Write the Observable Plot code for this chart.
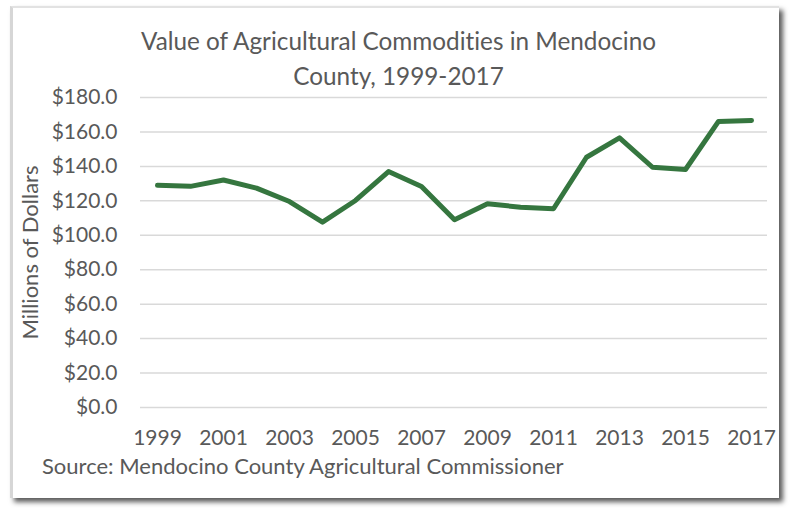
<!DOCTYPE html>
<html><head><meta charset="utf-8">
<script src="https://cdn.jsdelivr.net/npm/d3@7"></script>
<script src="https://cdn.jsdelivr.net/npm/@observablehq/plot@0.6"></script>
<style>
body{margin:0;background:#fff;font-family:Lato,"Open Sans",sans-serif;font-variant-ligatures:none;font-feature-settings:"liga" 0,"clig" 0;}
svg text{font-variant-ligatures:none;font-feature-settings:"liga" 0,"clig" 0;}
#wrap{position:relative;width:791px;height:508px;overflow:hidden;background:#fff;}
#card{position:absolute;left:10px;top:6px;width:766px;height:490px;background:#fff;border-top:2px solid #e2e2e2;border-left:3px solid #d6d6d6;box-shadow:4px 4px 5px #5a5a5a;}
#title{position:absolute;left:0;width:797px;top:23px;text-align:center;color:#595959;font-size:24.3px;line-height:35px;}
#chart{position:absolute;left:0;top:0;}
#source{position:absolute;left:42px;top:452px;color:#595959;font-size:22px;white-space:nowrap;}
</style>
</head><body>
<div id="wrap">
<div id="card"></div>
<div id="chart"></div>
<div id="title">Value of Agricultural Commodities in Mendocino<br>County, 1999-2017</div>
<div id="source">Source: Mendocino County Agricultural Commissioner</div>
</div>
<script>
const years = [1999,2000,2001,2002,2003,2004,2005,2006,2007,2008,2009,2010,2011,2012,2013,2014,2015,2016,2017];
const values = [129.0,128.4,132.1,127.4,119.6,107.6,120.2,137.0,128.3,109.0,118.3,116.3,115.4,145.3,156.6,139.5,138.2,166.1,166.7];
const yTicks = [0,20,40,60,80,100,120,140,160,180];
const xTicks = [1999,2001,2003,2005,2007,2009,2011,2013,2015,2017];
const data = years.map((year,i)=>({year, value: values[i]}));

const chart = Plot.plot({
  width: 791, height: 508,
  marginTop: 97, marginBottom: 101, marginLeft: 140, marginRight: 24,
  style: {background: "transparent", fontFamily: "Lato, 'Open Sans', sans-serif", fontSize: "21px", color: "#595959"},
  x: {type: "point", domain: years, padding: 0.5},
  y: {domain: [0, 180]},
  marks: [
    Plot.gridY(yTicks, {stroke: "#d9d9d9", strokeOpacity: 1, strokeWidth: 1.5}),
    Plot.axisY(yTicks, {tickSize: 0, tickPadding: 23, tickFormat: d => "$" + d.toFixed(1), label: null, fontSize: 21}),
    Plot.text(["Millions of Dollars"], {frameAnchor: "left", textAnchor: "middle", dx: -110, rotate: -90, fontSize: 22, fill: "#595959"}),
    Plot.axisX(xTicks, {tickSize: 0, tickPadding: 23, tickFormat: d => String(d), label: null, fontSize: 21}),
    Plot.line(data, {x: "year", y: "value", stroke: "#35763f", strokeWidth: 5, strokeLinecap: "round", strokeLinejoin: "round"})
  ]
});
document.getElementById("chart").appendChild(chart);
</script>
</body></html>
